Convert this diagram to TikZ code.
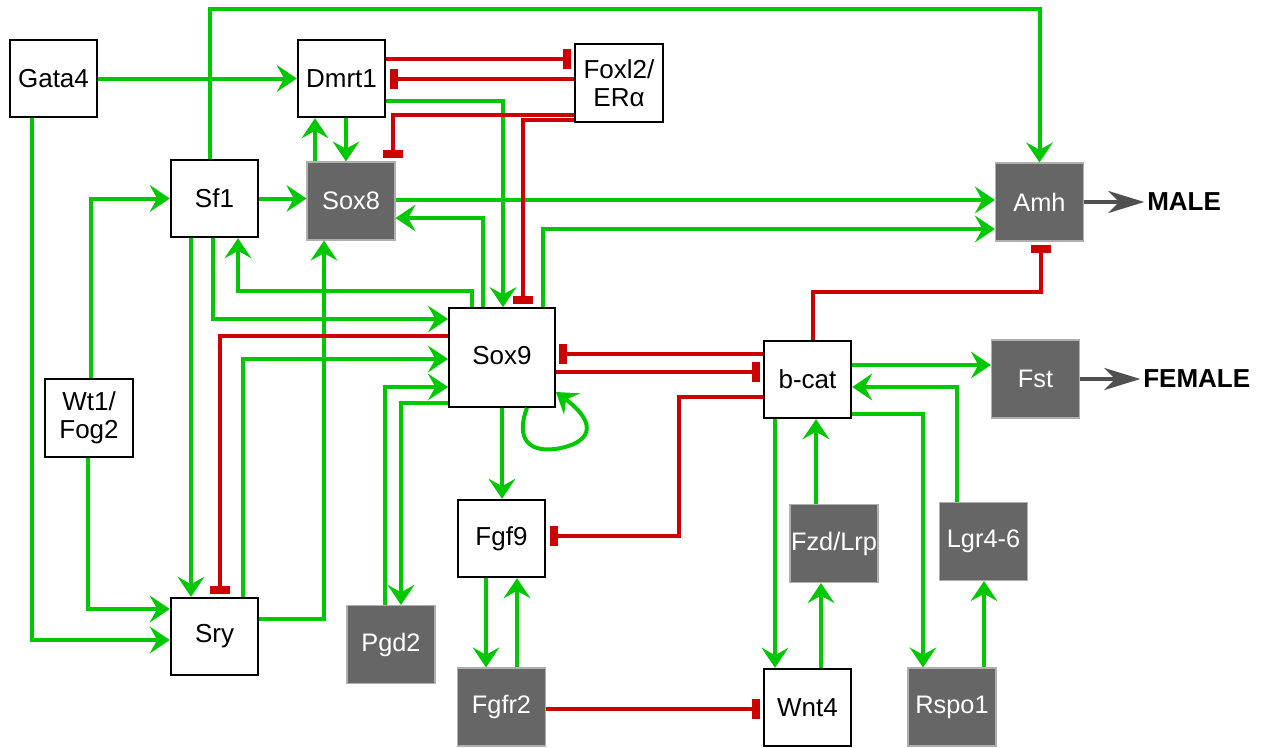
\documentclass[tikz,border=0pt]{standalone}
\usepackage{fontspec}
\setmainfont{Liberation Sans}
\usetikzlibrary{arrows.meta}
\definecolor{actgreen}{RGB}{0,200,0}
\definecolor{inhred}{RGB}{204,0,0}
\definecolor{boxgray}{RGB}{102,102,102}
\definecolor{boxedge}{RGB}{175,175,175}
\definecolor{outgray}{RGB}{80,80,80}
\newcommand{\genefont}{\fontsize{19.5}{21}\selectfont}
\newcommand{\grayfont}{\fontsize{19}{21}\selectfont}
\tikzset{
  wbox/.style={draw=black, line width=1.5pt, fill=white, minimum width=65.5pt, minimum height=58pt, inner sep=0pt, font=\genefont, align=center},
  gbox/.style={draw=boxedge, line width=0.8pt, fill=boxgray, text=white, minimum width=66pt, minimum height=58.5pt, inner sep=0pt, font=\grayfont, align=center},
  act/.style={draw=actgreen, line width=3pt, -{Stealth[length=15pt,width=20pt,inset=5.5pt]}},
  inh/.style={draw=inhred, line width=3pt, -{Bar[width=15pt,line width=6pt]}, shorten >=2.5pt},
  outarr/.style={draw=outgray, line width=3pt, -{Stealth[length=27pt,width=16.5pt,inset=8pt]}},
  sexlabel/.style={font=\fontsize{19.5}{21}\selectfont\bfseries, inner sep=0pt, anchor=west}
}
\begin{document}
\begin{tikzpicture}[x=0.75pt,y=-0.75pt]
\useasboundingbox (0,0) rectangle (1268,747);
% nodes
\node[wbox] (Gata4) at (53.5,78.5) {Gata4};
\node[wbox] (Dmrt1) at (341.5,78.5) {Dmrt1};
\node[wbox] (Foxl2) at (619,83) {Foxl2/\\ERα};
\node[wbox] (Sf1) at (214.5,198.5) {Sf1};
\node[gbox] (Sox8) at (351,201) {Sox8};
\node[gbox] (Amh) at (1039.5,202) {Amh};
\node[wbox] (Wt1) at (89,418) {Wt1/\\Fog2};
\node[wbox] (Sry) at (214.5,636.5) {Sry};
\node[gbox] (Pgd2) at (391,644.5) {Pgd2};
\node[wbox, minimum width=79.5pt, minimum height=74pt] (Sox9) at (502,357.5) {\raisebox{3pt}{Sox9}};
\node[wbox] (bcat) at (807.5,379.5) {b-cat};
\node[gbox] (Fst) at (1035.5,379) {Fst};
\node[wbox] (Fgf9) at (501.5,538.5) {Fgf9};
\node[gbox] (Fgfr2) at (501.5,707) {Fgfr2};
\node[wbox] (Wnt4) at (807.5,707.5) {Wnt4};
\node[gbox] (Fzd) at (834,543.5) {Fzd/Lrp};
\node[gbox] (Lgr) at (983.5,541.5) {Lgr4-6};
\node[gbox] (Rspo1) at (952,707) {Rspo1};
\node[sexlabel] (male) at (1147,202) {MALE};
\node[sexlabel] (female) at (1143,379) {FEMALE};
% activations
\draw[act] (Gata4.east) -- (Dmrt1.west);
\draw[act] (Gata4.south -| 32,0) |- (Sry.west |- 0,640);
\draw[act] (Sf1.north -| 210,0) -- (210,9) -| (Amh.north);
\draw[act] (Wt1.north -| 91,0) |- (Sf1.west);
\draw[act] (Wt1.south -| 88,0) |- (Sry.west |- 0,609);
\draw[act] (Sf1.east) -- (Sf1.east -| Sox8.west);
\draw[act] (Sox8.north -| 315,0) -- (Dmrt1.south -| 315,0);
\draw[act] (Dmrt1.south -| 346,0) -- (Sox8.north -| 346,0);
\draw[act] (Sf1.south -| 191,0) -- (Sry.north -| 191,0);
\draw[act] (Sf1.south -| 213,0) |- (Sox9.west |- 0,319);
\draw[act] (Sox9.north -| 472,0) -- (472,291) -| (Sf1.south -| 238,0);
\draw[act] (Sox9.north -| 483,0) |- (Sox8.east |- 0,218);
\draw[act] (Dmrt1.east |- 0,101) -| (Sox9.north -| 503,0);
\draw[act] (Sox8.east |- 0,200) -- (Amh.west |- 0,200);
\draw[act] (Sox9.north -| 543,0) |- (Amh.west |- 0,229);
\draw[act] (Sry.east |- 0,619) -| (Sox8.south -| 324,0);
\draw[act] (Sry.north -| 243,0) |- (Sox9.west |- 0,359);
\draw[act] (Pgd2.north -| 385,0) |- (Sox9.west |- 0,387);
\draw[act] (Sox9.west |- 0,403) -| (Pgd2.north -| 401,0);
\draw[act] (Sox9.south -| 527,0) .. controls (515,440) and (530,452) .. (555,449) .. controls (590,444) and (600,425) .. (Sox9.east |- 0,392);
\draw[act] (Sox9.south -| 502,0) -- (Fgf9.north -| 502,0);
\draw[act] (Fgf9.south -| 486,0) -- (Fgfr2.north -| 486,0);
\draw[act] (Fgfr2.north -| 517,0) -- (Fgf9.south -| 517,0);
\draw[act] (bcat.south -| 775,0) -- (Wnt4.north -| 775,0);
\draw[act] (Wnt4.north -| 821,0) -- (Fzd.south -| 821,0);
\draw[act] (Fzd.north -| 816,0) -- (bcat.south -| 816,0);
\draw[act] (bcat.east |- 0,365) -- (Fst.west |- 0,365);
\draw[act] (Lgr.north -| 957,0) |- (bcat.east |- 0,387);
\draw[act] (bcat.east |- 0,414) -| (Rspo1.north -| 923,0);
\draw[act] (Rspo1.north -| 984,0) -- (Lgr.south -| 984,0);
% inhibitions
\draw[inh] (Dmrt1.east |- 0,59) -- (Foxl2.west |- 0,59);
\draw[inh] (Foxl2.west |- 0,79) -- (Dmrt1.east |- 0,79);
\draw[inh] (Foxl2.west |- 0,115) -| (Sox8.north -| 393,0);
\draw[inh] (Foxl2.west |- 0,120) -| (Sox9.north -| 523,0);
\draw[inh] (Sox9.west |- 0,336) -| (Sry.north -| 220,0);
\draw[inh] (bcat.west |- 0,354) -- (Sox9.east |- 0,354);
\draw[inh] (Sox9.east |- 0,372) -- (bcat.west |- 0,372);
\draw[inh] (bcat.west |- 0,397) -| (679,536) -- (Fgf9.east |- 0,536);
\draw[inh] (Fgfr2.east |- 0,709) -- (Wnt4.west |- 0,709);
\draw[inh] (bcat.north -| 813,0) -- (813,292) -| (Amh.south -| 1041,0);
% outcomes
\draw[outarr] (Amh.east |- male.west) -- ([xshift=-2pt]male.west);
\draw[outarr] (Fst.east |- female.west) -- ([xshift=-2pt]female.west);
\end{tikzpicture}
\end{document}
